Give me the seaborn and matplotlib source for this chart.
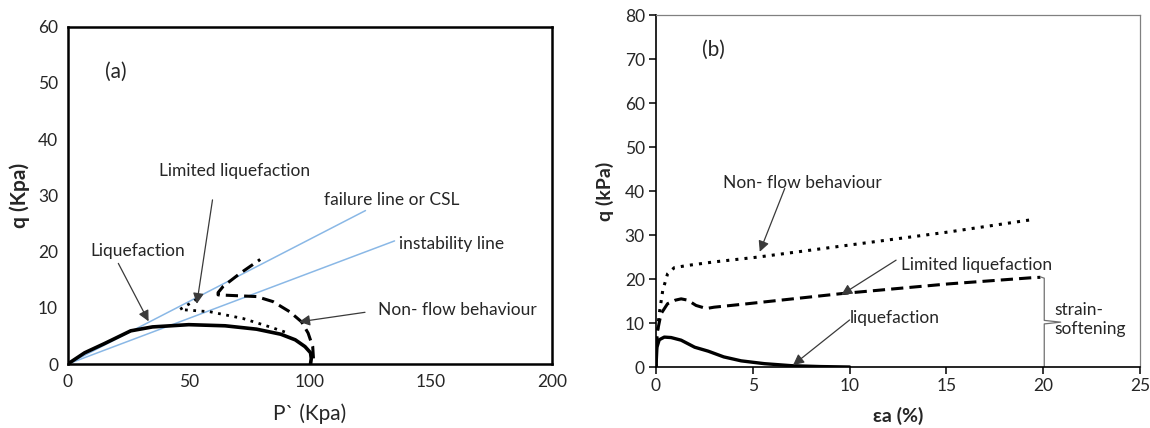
import numpy as np
import pandas as pd
import seaborn as sns
import matplotlib.pyplot as plt

# ---- panel (a): stress paths in p'-q space ----
liq_p = [0, 7, 15, 26, 35, 50, 65, 78, 88, 94, 98, 100.3, 100.6, 100.3]
liq_q = [0, 2.0, 3.6, 5.9, 6.6, 7.0, 6.8, 6.2, 5.3, 4.3, 3.1, 2.0, 1.0, 0]

lim_p = [101.5, 101.2, 99.3, 96.6, 91.7, 84.8, 78.0, 62.1, 62.1, 64.2, 71.1, 79.5]
lim_q = [1.0, 3.1, 5.5, 7.5, 9.3, 11.1, 12.0, 12.3, 12.7, 13.8, 16.1, 18.6]

nf_p = [89.7, 83.5, 72.4, 58.7, 46.3, 51.8, 54.0]
nf_q = [5.7, 6.6, 8.1, 9.3, 9.7, 11.1, 11.8]

csl_p = [0, 123]
csl_q = [0, 27.3]
inst_p = [0, 135]
inst_q = [0, 21.9]

# ---- panel (b): q vs axial strain ----
b_nf_e = [0, 0.05, 0.17, 0.35, 0.6, 0.95, 1.64, 3.0, 5.27, 9.93, 15.1, 19.4]
b_nf_q = [0, 7.0, 12.1, 17.4, 21.2, 22.6, 23.1, 23.9, 25.0, 27.7, 30.7, 33.5]

b_lim_e = [0, 0.05, 0.26, 0.6, 1.0, 1.3, 1.64, 2.07, 2.6, 3.0, 4.75, 9.6, 15.1, 19.4, 19.85]
b_lim_q = [0, 7.5, 12.1, 14.4, 15.2, 15.5, 15.2, 14.0, 13.3, 13.6, 14.4, 16.7, 18.9, 20.3, 20.4]

b_liq_e = [0, 0.05, 0.17, 0.43, 0.78, 1.3, 2.0, 2.7, 3.5, 4.4, 5.6, 7.0, 8.5, 10.0]
b_liq_q = [0, 4.5, 6.2, 6.8, 6.7, 6.1, 4.5, 3.6, 2.3, 1.4, 0.76, 0.3, 0.1, 0]

sns.set_style("white")
plt.rcParams['font.family'] = ['Lato', 'DejaVu Sans']

fig = plt.figure(figsize=(11.5, 4.28), dpi=100)
ax1 = fig.add_axes([0.0589, 0.1495, 0.421, 0.788])
ax2 = fig.add_axes([0.5704, 0.1425, 0.421, 0.822])

blue = '#8ab8e6'
arrow = dict(arrowstyle='-|>', color='#3a3a3a', lw=0.9, mutation_scale=16,
             shrinkA=0, shrinkB=0)

# panel (a)
sns.lineplot(x=csl_p, y=csl_q, ax=ax1, color=blue, lw=1.1)
sns.lineplot(x=inst_p, y=inst_q, ax=ax1, color=blue, lw=1.1)
sns.lineplot(x=liq_p, y=liq_q, ax=ax1, sort=False, estimator=None, color='black', lw=2.6)
sns.lineplot(x=lim_p, y=lim_q, ax=ax1, sort=False, estimator=None, color='black', lw=2.2,
             linestyle=(0, (4, 2)))
sns.lineplot(x=nf_p, y=nf_q, ax=ax1, sort=False, estimator=None, color='black', lw=2.0,
             linestyle=(0, (1, 2)))

ax1.set_xlim(0, 200)
ax1.set_ylim(0, 60)
ax1.set_xticks(range(0, 201, 50))
ax1.set_yticks(range(0, 61, 10))
ax1.tick_params(length=0, labelsize=12.5, pad=7)
for s in ax1.spines.values():
    s.set_color('black')
    s.set_linewidth(1.8)
ax1.set_xlabel('P` (Kpa)', fontsize=15, labelpad=10)
ax1.set_ylabel('q (Kpa)', fontsize=15, fontweight='bold', labelpad=6)

ax1.text(15.6, 51.9, '(a)', fontsize=15, va='center')
ax1.text(37.5, 34.3, 'Limited liquefaction', fontsize=12.5, va='center')
ax1.text(105.7, 29.1, 'failure line or CSL', fontsize=12.5, va='center')
ax1.text(137, 21.4, 'instability line', fontsize=12.5, va='center')
ax1.text(9.5, 20.1, 'Liquefaction', fontsize=12.5, va='center')
ax1.text(128, 9.6, 'Non- flow behaviour', fontsize=12.5, va='center')
ax1.annotate('', xy=(33.4, 7.6), xytext=(20.9, 17.9), arrowprops=arrow)
ax1.annotate('', xy=(53.3, 10.7), xytext=(59.8, 29.2), arrowprops=arrow)
ax1.annotate('', xy=(95.6, 7.5), xytext=(122.8, 9.2), arrowprops=arrow)

# panel (b)
sns.lineplot(x=b_nf_e, y=b_nf_q, ax=ax2, sort=False, estimator=None, color='black', lw=2.2,
             linestyle=(0, (1, 2)))
sns.lineplot(x=b_lim_e, y=b_lim_q, ax=ax2, sort=False, estimator=None, color='black', lw=2.2,
             linestyle=(0, (4, 2)))
sns.lineplot(x=b_liq_e, y=b_liq_q, ax=ax2, sort=False, estimator=None, color='black', lw=2.4)

ax2.set_xlim(0, 25)
ax2.set_ylim(0, 80)
ax2.set_xticks(range(0, 26, 5))
ax2.set_yticks(range(0, 81, 10))
ax2.tick_params(axis='both', which='both', direction='out', length=5, width=1.1,
                color='black', labelsize=12.5, pad=3, left=True, bottom=True)
for side in ['left', 'bottom']:
    ax2.spines[side].set_color('black')
    ax2.spines[side].set_linewidth(1.2)
for side in ['top', 'right']:
    ax2.spines[side].set_color('#808080')
    ax2.spines[side].set_linewidth(0.9)
ax2.set_xlabel('εa (%)', fontsize=14, fontweight='bold', labelpad=9)
ax2.set_ylabel('q (kPa)', fontsize=14, fontweight='bold', labelpad=8)

ax2.text(2.4, 72.1, '(b)', fontsize=15, va='center')
ax2.text(3.45, 41.8, 'Non- flow behaviour', fontsize=12.5, va='center')
ax2.text(12.66, 23.2, 'Limited liquefaction', fontsize=12.5, va='center')
ax2.text(10.0, 11.1, 'liquefaction', fontsize=12.5, va='center')
ax2.text(20.55, 13.0, 'strain-', fontsize=12.5, va='center')
ax2.text(20.55, 8.6, 'softening', fontsize=12.5, va='center')
ax2.annotate('', xy=(5.36, 26.2), xytext=(6.65, 40.6), arrowprops=arrow)
ax2.annotate('', xy=(9.57, 16.4), xytext=(12.4, 24.3), arrowprops=arrow)
ax2.annotate('', xy=(7.08, 0.45), xytext=(10.0, 10.7), arrowprops=arrow)

# curly bracket marking the strain-softening range
brace_x = [19.85, 20.05, 20.05, 20.9, 20.05, 20.05]
brace_y = [20.5, 20.2, 10.6, 10.2, 9.8, 0]
ax2.plot(brace_x, brace_y, color='#707070', lw=0.9)

fig.savefig('out.png', dpi=100)
